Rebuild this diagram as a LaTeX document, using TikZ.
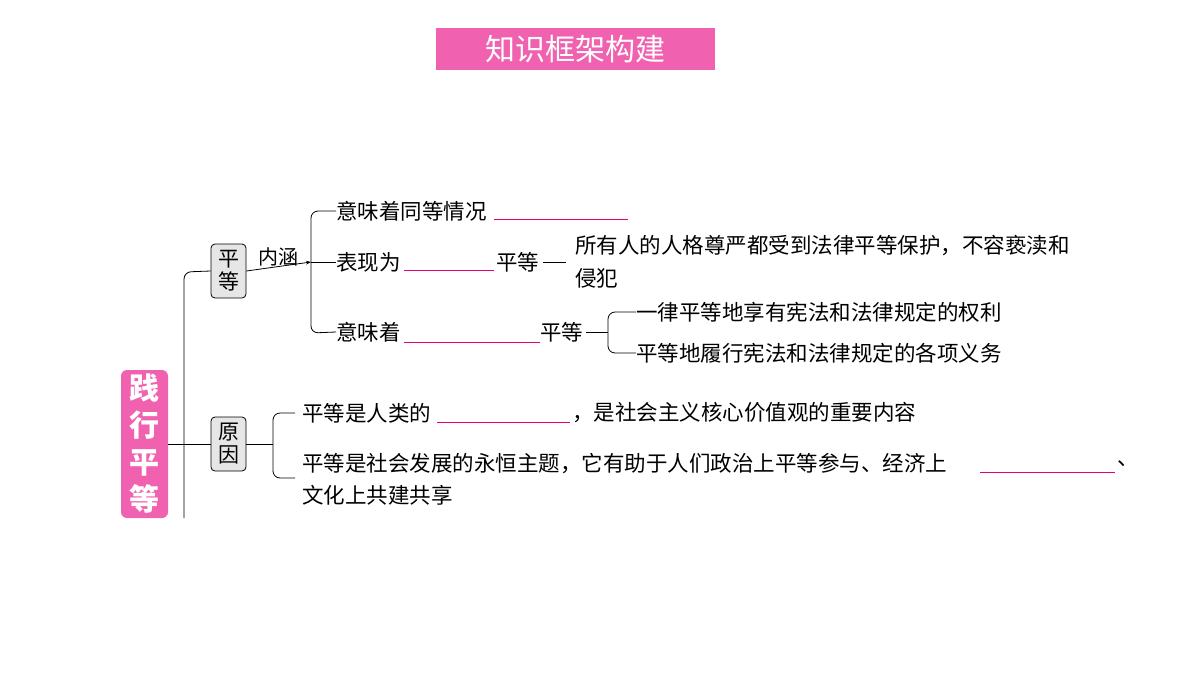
\documentclass[tikz,border=0pt]{standalone}
\usepackage{fontspec}
\setmainfont{Noto Sans CJK SC}
\usetikzlibrary{arrows.meta}
\definecolor{pk}{HTML}{F062B0}
\definecolor{bl}{HTML}{E5006E}
\definecolor{gb}{HTML}{E6E6E6}
\begin{document}
\begin{tikzpicture}[x=1pt,y=-1pt,
 t/.style={anchor=west,inner sep=0pt,font=\fontsize{21.5}{25}\selectfont},
 gbox/.style={draw,rounded corners=4pt,fill=gb,line width=0.8pt,inner sep=2pt,align=center,font=\fontsize{21}{23}\selectfont,minimum width=35pt,minimum height=54pt},
 blank/.style={bl,line width=0.9pt},
 ln/.style={line width=0.8pt,rounded corners=7pt}]
\useasboundingbox (0,0) rectangle (1200,675);
\node[fill=pk,minimum width=279pt,minimum height=42pt,inner sep=0,text=white,font=\fontsize{30}{32}\selectfont] (title) at (575.5,49) {知识框架构建};
\node[fill=pk,rounded corners=6pt,minimum width=47pt,minimum height=148pt,inner sep=0,text=white,align=center,font=\bfseries\fontsize{30}{37}\selectfont] (root) at (144.5,444) {践\\行\\平\\等};
\node[gbox] (pd) at (228.5,271) {平\\等};
\node[gbox] (yy) at (228.5,444) {原\\因};
\coordinate (vb) at (184,518);
\draw[ln] (vb) -- (184,272) -- (pd.west);
\draw[line width=0.8pt] (root.east|-yy.west) -- (yy.west);
\coordinate (br1) at (311,262);
\draw[line width=0.8pt,-{Stealth[length=5pt]}] (pd.east) -- (br1);
\node[font=\fontsize{20}{22}\selectfont,anchor=south] at (278,270) {内涵};
% texts
\node[t] (a1) at (336,211) {意味着同等情况};
\node[t] (a2) at (336,262) {表现为};
\node[t] (a3) at (336,332) {意味着};
\draw[ln] (336,211) -- (311,211) -- (311,333) -- (a3.west);
\draw[line width=0.8pt] (br1) -- (a2.west);
\draw[blank] (494,219) -- (628,219);
\draw[blank] (404,270) -- (494,270);
\node[t] (a2b) at (496,262) {平等};
\node[t] (a2c) at (575,245) {所有人的人格尊严都受到法律平等保护，不容亵渎和};
\node[t] at (575,278) {侵犯};
\draw[line width=0.8pt] (a2b.east)++(4,0) -- (566,262);
\draw[blank] (404,342) -- (540,342);
\node[t] (a3b) at (540,332) {平等};
\node[t] (b1) at (636,312) {一律平等地享有宪法和法律规定的权利};
\node[t] (b2) at (636,353) {平等地履行宪法和法律规定的各项义务};
\draw[line width=0.8pt] (a3b.east)++(3,0) -- (608,332);
\draw[ln] (b1.west) -- (608,312) -- (608,353) -- (b2.west);
% reasons
\node[t] (c1) at (302,413) {平等是人类的};
\draw[blank] (437,422) -- (570,422);
\node[t] at (572,413) {，是社会主义核心价值观的重要内容};
\node[t] (c2) at (302,464) {平等是社会发展的永恒主题，它有助于人们政治上平等参与、经济上};
\draw[blank] (980,472) -- (1115,472);
\node[t] at (1117,464) {、};
\node[t] at (302,495) {文化上共建共享};
\draw[line width=0.8pt] (yy.east) -- (273,444);
\draw[ln] (295,413) -- (273,413) -- (273,478) -- (295,478);
\end{tikzpicture}
\end{document}
